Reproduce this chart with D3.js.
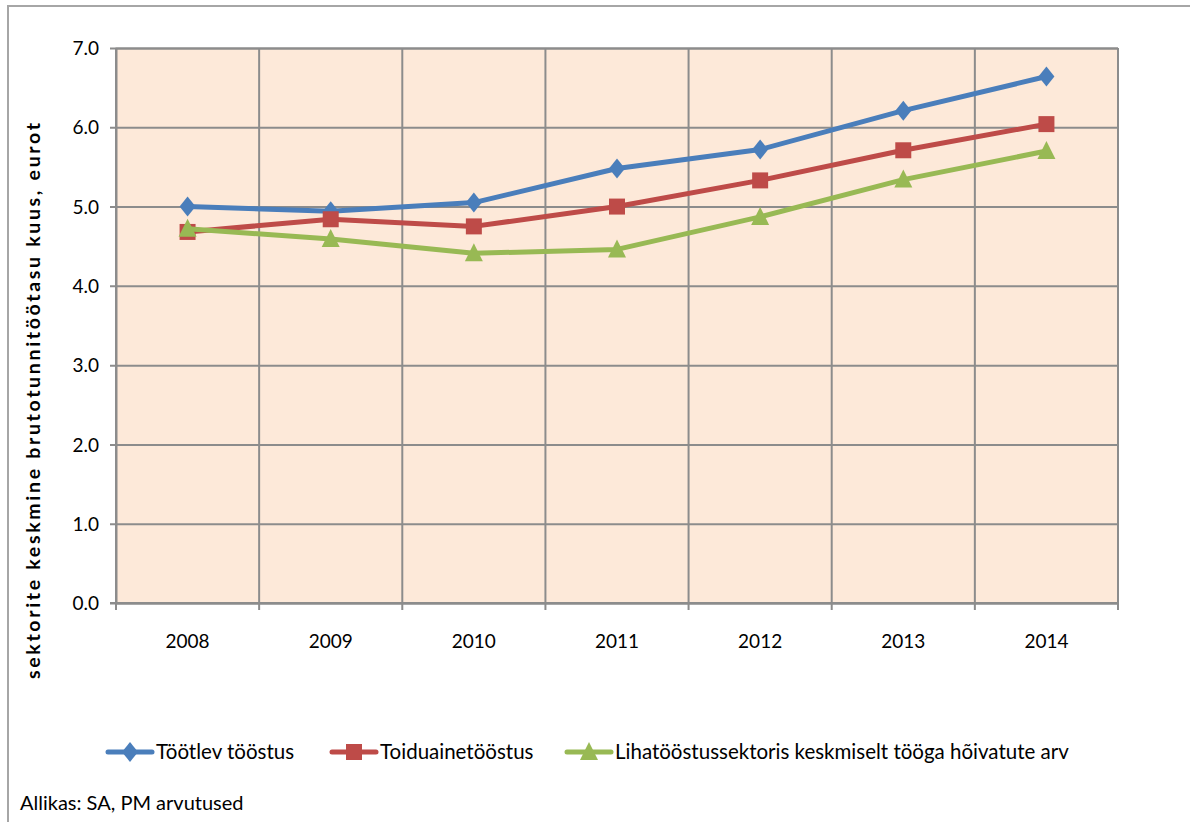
<!DOCTYPE html>
<html>
<head>
<meta charset="utf-8">
<script src="https://cdn.jsdelivr.net/npm/d3@7"></script>
<style>
  body { margin: 0; background: #fff; }
  text { font-family: Lato, "Open Sans", sans-serif; fill: #000; }
</style>
</head>
<body>
<script>
let width = 1190;
let height = 822;
let margin = { top: 48, right: 72, bottom: 219, left: 116 };

let years = ["2008", "2009", "2010", "2011", "2012", "2013", "2014"];
let seriesNames = ["Töötlev tööstus", "Toiduainetööstus", "Lihatööstussektoris keskmiselt tööga hõivatute arv"];
let manufacturing = [5.00, 4.94, 5.05, 5.48, 5.72, 6.21, 6.64];
let food = [4.68, 4.84, 4.75, 5.00, 5.33, 5.71, 6.04];
let meat = [4.72, 4.59, 4.41, 4.46, 4.87, 5.34, 5.70];
let yTicks = [0, 1, 2, 3, 4, 5, 6, 7];
let colors = ["#4a7ebb", "#be4b48", "#98b954"];
let shapes = ["diamond", "square", "triangle"];

let series = [manufacturing, food, meat].map((v, i) => ({
	name: seriesNames[i],
	values: v,
	color: colors[i],
	shape: shapes[i]
}));

let svg = d3.select("body").append("svg")
	.attr("width", width)
	.attr("height", height);

// outer chart frame
svg.append("rect")
	.attr("x", 8).attr("y", 6)
	.attr("width", 1200).attr("height", 900)
	.attr("fill", "none")
	.attr("stroke", "#a6a6a6")
	.attr("stroke-width", 2);

let plotW = width - margin.left - margin.right;
let plotH = height - margin.top - margin.bottom;

let x = d3.scaleBand().domain(years).range([margin.left, margin.left + plotW]);
let y = d3.scaleLinear().domain([0, 7]).range([margin.top + plotH, margin.top]);

svg.append("rect")
	.attr("x", margin.left).attr("y", margin.top)
	.attr("width", plotW).attr("height", plotH)
	.attr("fill", "#fde9d9");

// horizontal grid + y axis
let yAxis = svg.append("g")
	.attr("transform", `translate(${margin.left},0)`)
	.call(d3.axisLeft(y).tickValues(yTicks).tickFormat(d3.format(".1f"))
		.tickSize(-plotW).tickPadding(17));
yAxis.select(".domain").attr("stroke", "#8c8c8c").attr("stroke-width", 2);
yAxis.selectAll(".tick line").attr("stroke", "#8c8c8c").attr("stroke-width", 2).attr("x1", -6);
yAxis.selectAll(".tick text").style("font-size", "19px").attr("dy", "0.35em");

// vertical grid at band boundaries
let bounds = years.map(d => x(d)).concat([margin.left + plotW]);
svg.append("g").selectAll("line")
	.data(bounds)
	.enter().append("line")
	.attr("x1", d => d).attr("x2", d => d)
	.attr("y1", margin.top).attr("y2", margin.top + plotH + 7)
	.attr("stroke", "#8c8c8c").attr("stroke-width", 2);

svg.append("line")
	.attr("x1", margin.left - 6).attr("x2", margin.left + plotW)
	.attr("y1", y(0)).attr("y2", y(0))
	.attr("stroke", "#8c8c8c").attr("stroke-width", 2);

svg.append("g").selectAll("text")
	.data(years)
	.enter().append("text")
	.attr("x", d => x(d) + x.bandwidth() / 2)
	.attr("y", 648)
	.attr("text-anchor", "middle")
	.style("font-size", "19px")
	.text(d => d);

svg.append("text")
	.attr("transform", "translate(40,401) rotate(-90)")
	.attr("text-anchor", "middle")
	.attr("textLength", 556)
	.attr("lengthAdjust", "spacing")
	.style("font-size", "19.5px")
	.style("font-weight", "bold")
	.text("sektorite keskmine brutotunnitöötasu kuus, eurot");

function markerPath(shape) {
	if (shape === "diamond") return "M0,-10L8,0L0,10L-8,0Z";
	if (shape === "square") return "M-8,-8L8,-8L8,8L-8,8Z";
	return "M0,-10L9,8L-9,8Z";
}

let line = d3.line()
	.x((d, i) => x(years[i]) + x.bandwidth() / 2)
	.y(d => y(d));

let g = svg.append("g").selectAll("g")
	.data(series)
	.enter().append("g");

g.append("path")
	.attr("d", d => line(d.values))
	.attr("fill", "none")
	.attr("stroke", d => d.color)
	.attr("stroke-width", 5)
	.attr("stroke-linejoin", "round");

g.each(function(s) {
	d3.select(this).selectAll("path.mk")
		.data(s.values)
		.enter().append("path")
		.attr("class", "mk")
		.attr("d", markerPath(s.shape))
		.attr("transform", (d, i) => `translate(${x(years[i]) + x.bandwidth() / 2},${y(d)})`)
		.attr("fill", s.color);
});

// legend
let legendX = [108, 332, 567];
let leg = svg.append("g").selectAll("g")
	.data(series)
	.enter().append("g")
	.attr("transform", (d, i) => `translate(${legendX[i]},752)`);

leg.append("line")
	.attr("x1", 0).attr("x2", 44)
	.attr("stroke", d => d.color)
	.attr("stroke-width", 5)
	.attr("stroke-linecap", "round");
leg.append("path")
	.attr("d", d => markerPath(d.shape))
	.attr("transform", "translate(22,0)")
	.attr("fill", d => d.color);
leg.append("text")
	.attr("x", 48)
	.attr("y", 7)
	.style("font-size", "20.5px")
	.text(d => d.name);

svg.append("text")
	.attr("x", 20)
	.attr("y", 810)
	.style("font-size", "20px")
	.text("Allikas: SA, PM arvutused");
</script>
</body>
</html>
